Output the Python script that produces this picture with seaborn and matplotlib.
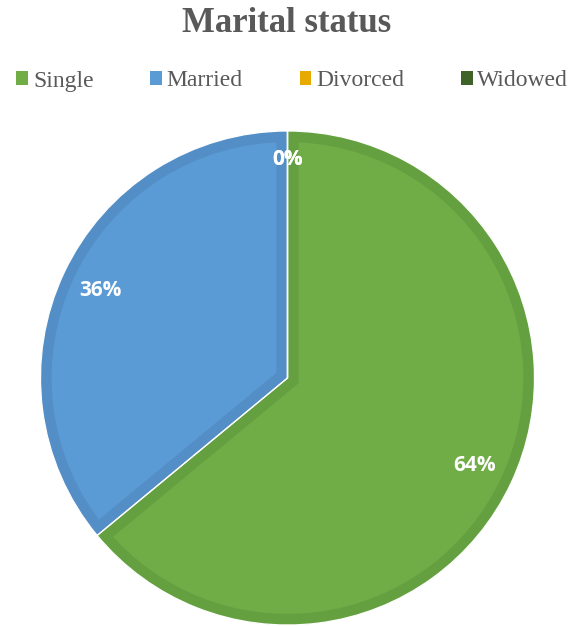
import matplotlib
matplotlib.use("Agg")
import matplotlib.pyplot as plt
from matplotlib.patches import Patch, Wedge
import seaborn as sns

# Survey breakdown by marital status (share of respondents, %)
categories = ["Single", "Married", "Divorced", "Widowed"]
shares = [64, 36, 0, 0]

fill_colors = ["#70AD47", "#5B9BD5", "#E7AA00", "#3F6229"]
edge_colors = ["#64A040", "#548EC6", "#D09900", "#36561F"]

sns.set_theme(style="white")
plt.rcParams["font.family"] = ["DejaVu Sans"]

fig = plt.figure(figsize=(5.73, 6.27), dpi=100)
fig.patch.set_facecolor("white")

# square axes holding the pie
W, H = 573, 627
cx, cy, r = 287.5, 378, 247
ax = fig.add_axes([(cx - r) / W, (H - cy - r) / H, 2 * r / W, 2 * r / H])

wedges, _, autotexts = ax.pie(
    shares, colors=fill_colors, startangle=90, counterclock=False,
    radius=1.0, autopct="%1.0f%%", pctdistance=0.835,
    wedgeprops=dict(linewidth=0),
    textprops=dict(color="white", fontsize=15, fontweight="bold", family="Open Sans"),
)

# darker inner rim on every slice: a wide stroke clipped to the slice itself
for w, ec in zip(wedges, edge_colors):
    rim = Wedge(w.center, w.r, w.theta1, w.theta2, facecolor="none",
                edgecolor=ec, linewidth=16, zorder=2)
    ax.add_patch(rim)
    rim.set_clip_path(w)

# thin white separators between slices
ax.pie(shares, startangle=90, counterclock=False, radius=1.0,
       wedgeprops=dict(facecolor="none", edgecolor="white", linewidth=0.9, zorder=3))

for t, v in zip(autotexts, shares):
    t.set_zorder(5)
    if v == 0:
        t.set_position((0, 0.885))

ax.set_xlim(-1, 1)
ax.set_ylim(-1, 1)
ax.set_aspect("equal")
ax.axis("off")

fig.text(0.5, 1 - 23 / H, "Marital status", ha="center", va="center",
         fontsize=25, fontweight="bold", color="#595959", family="Liberation Serif")

handles = [Patch(facecolor=c, edgecolor="none") for c in fill_colors]
fig.legend(handles, categories, loc="center", bbox_to_anchor=(0.51, 1 - 81 / H),
           ncol=4, frameon=False, handlelength=0.5, handleheight=0.5,
           handletextpad=0.2, columnspacing=2.4, borderaxespad=0,
           prop=dict(family="Liberation Serif", size=17), labelcolor="#595959")

fig.savefig("out.png", dpi=100, facecolor="white")
